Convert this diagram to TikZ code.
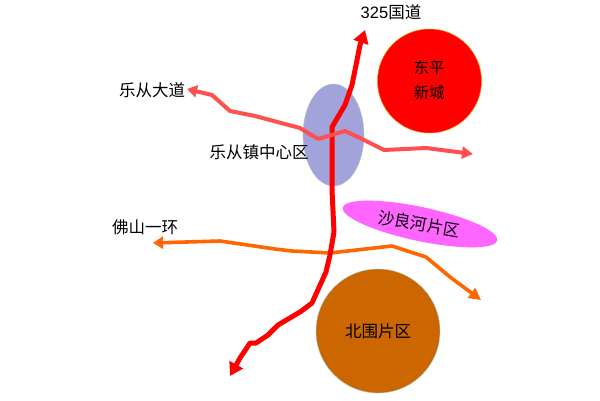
\documentclass[tikz,border=0pt]{standalone}
\usepackage{fontspec}
\setmainfont{Liberation Sans}
\newfontfamily\cjk{Noto Sans CJK SC}
\usetikzlibrary{arrows.meta,shapes.geometric}
\definecolor{cBlue}{HTML}{A3A3DC}
\definecolor{cEdge}{HTML}{A8CFD0}
\definecolor{cMag}{HTML}{FF66FF}
\definecolor{cBrown}{HTML}{CC6600}
\definecolor{cOrange}{HTML}{FF6600}
\definecolor{cPink}{HTML}{FF5050}
\tikzset{
  lbl/.style={font=\cjk\fontsize{16.5}{20}\selectfont,text=black,inner sep=0pt,align=center},
  blob/.style={ellipse,inner sep=0pt},
  road/.style={line join=round},
  redroad/.style={road,draw=red,line width=5pt,-{Triangle[length=13pt,width=15pt]}},
  pinkroad/.style={road,draw=cPink,line width=4pt},
  orangeroad/.style={road,draw=cOrange,line width=3.6pt},
}
\begin{document}
\begin{tikzpicture}[x=1pt,y=-1pt]
\useasboundingbox (0,0) rectangle (600,400);
\fill[white] (0,0) rectangle (600,400);
% areas
\node[blob,fill=cBlue,draw=cEdge,minimum width=61pt,minimum height=102pt] (zx) at (333.5,135) {};
\node[blob,fill=red,draw=orange,line width=.5pt,minimum width=104pt,minimum height=104pt] (df) at (429.5,81) {};
\node[blob,fill=cMag,rotate=-12,minimum width=158pt,minimum height=34pt] (sl) at (420,224) {};
\node[blob,fill=cBrown,draw=cEdge,minimum width=124pt,minimum height=124pt] (bw) at (378,331) {};
% free ends
\coordinate (rA) at (332,190);
\coordinate (rTop) at (365,30);
\coordinate (rEnd) at (230,376);
\coordinate (pL) at (187,89);
\coordinate (pR) at (473,154);
\coordinate (oL) at (153,243);
\coordinate (oR) at (481,300);
% roads
\draw[orangeroad,-{Triangle[length=10pt,width=12pt]}]
  (292,251) -- (275,249) -- (220,241) -- (oL);
\draw[orangeroad,-{Triangle[length=12pt,width=12pt]}]
  (292,251) -- (330,253) -- (392,246) -- (426,257) -- (450,277) -- (oR);
\draw[pinkroad,-{Triangle[length=10pt,width=12pt]}]
  (318,139) -- (300,128) -- (255,116) -- (230,111) -- (212,95) -- (pL);
\draw[redroad]
  (rA) -- (332,127) -- (345,105) -- (352,85) -- (360,45) -- (rTop);
\draw[redroad]
  (rA) -- (334,232) -- (330,255) -- (326,272) -- (312,303) -- (300,312) -- (278,325) -- (268,335) -- (256,343) -- (250,343) -- (240,358) -- (rEnd);
\draw[pinkroad,-{Triangle[length=11pt,width=12pt]}]
  (318,139) -- (345,131) -- (360,138) -- (384,150) -- (426,148) -- (pR);
% labels
\node[lbl] (t1) at (391,12) {{\fontspec{Liberation Sans}325}{\cjk 国道}};
\node[lbl] (t2) at (152,90) {乐从大道};
\node[lbl] (t3) at (259,152) {乐从镇中心区};
\node[lbl] (t4) at (145,227) {佛山一环};
\node[lbl,font=\cjk\fontsize{15.5}{25}\selectfont] (t5) at (429,80) {东平\\新城};
\node[lbl,rotate=-10] (t6) at (419,224) {沙良河片区};
\node[lbl] (t7) at (378,331) {北围片区};
\end{tikzpicture}
\end{document}
